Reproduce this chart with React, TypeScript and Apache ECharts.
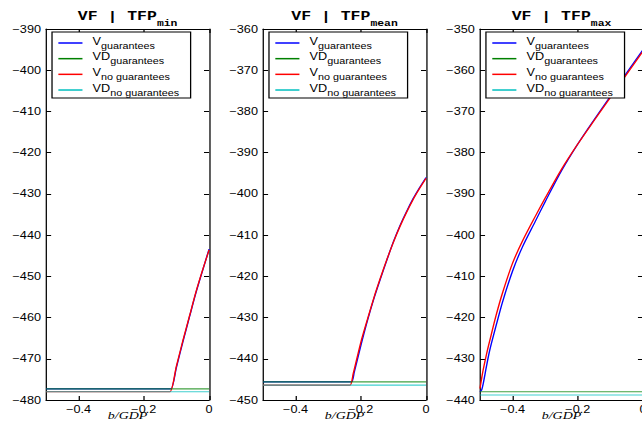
import React, { useEffect, useRef } from 'react';
import * as echarts from 'echarts';

// horizontal stretch of the original figure (text is wider than tall)
const S = 642 / 506;
const NW = 512;

const seriesNames = ['V_guarantees', 'VD_guarantees', 'V_no guarantees', 'VD_no guarantees'];
const legendLabels: Record<string, string> = {
  'V_guarantees': '{m|V}{s|guarantees}',
  'VD_guarantees': '{m|VD}{s|guarantees}',
  'V_no guarantees': '{m|V}{s|no guarantees}',
  'VD_no guarantees': '{m|VD}{s|no guarantees}',
};
const panelSubs = ['min', 'mean', 'max'];
const yMins = [-480, -450, -440];
const yMaxs = [-390, -360, -350];
const xTicks = [-0.4, -0.2, 0];

// Panel 1: TFP min
const p1VgB = [-0.5, -0.127, -0.117, -0.1, -0.08, -0.06, -0.04, -0.02, 0];
const p1VgV = [-477.3, -477.3, -477.3, -472.0, -465.8, -459.8, -453.9, -448.6, -443.4];
const p1VngB = [-0.5, -0.13, -0.12, -0.1, -0.08, -0.06, -0.04, -0.02, 0];
const p1VngV = [-478.0, -478.0, -478.0, -471.7, -465.5, -459.6, -453.7, -448.5, -443.6];
const p1VDgB = [-0.5, 0];
const p1VDgV = [-477.3, -477.3];
const p1VDngB = [-0.5, 0];
const p1VDngV = [-478.0, -478.0];

// Panel 2: TFP mean
const p2VgB = [-0.5, -0.238, -0.228, -0.22, -0.2, -0.18, -0.16, -0.14, -0.12, -0.1, -0.08, -0.06, -0.04, -0.02, 0];
const p2VgV = [-445.6, -445.6, -445.6, -443.2, -436.8, -430.8, -425.4, -420.6, -416.0, -411.6, -407.7, -404.3, -401.2, -398.5, -396.0];
const p2VngB = [-0.5, -0.243, -0.233, -0.223, -0.2, -0.18, -0.16, -0.14, -0.12, -0.1, -0.08, -0.06, -0.04, -0.02, 0];
const p2VngV = [-446.4, -446.4, -446.4, -443.5, -436.0, -430.5, -425.2, -420.4, -415.9, -411.7, -407.9, -404.5, -401.4, -398.7, -396.2];
const p2VDgB = [-0.5, 0];
const p2VDgV = [-445.6, -445.6];
const p2VDngB = [-0.5, 0];
const p2VDngV = [-446.4, -446.4];

// Panel 3: TFP max
const p3VgB = [-0.5, -0.495, -0.49, -0.48, -0.47, -0.45, -0.43, -0.4, -0.37, -0.33, -0.3, -0.25, -0.2, -0.15, -0.1, -0.05, 0];
const p3VgV = [-438.0, -437.6, -436.0, -431.8, -427.9, -421.8, -416.0, -408.7, -402.9, -396.6, -391.9, -384.4, -377.9, -372.0, -366.3, -360.6, -355.0];
const p3VngB = [-0.5, -0.495, -0.49, -0.48, -0.47, -0.45, -0.43, -0.4, -0.37, -0.33, -0.3, -0.25, -0.2, -0.15, -0.1, -0.05, 0];
const p3VngV = [-437.2, -434.8, -432.6, -428.9, -425.6, -419.3, -413.8, -406.8, -401.5, -395.4, -391.0, -384.0, -377.9, -372.2, -366.6, -361.0, -355.4];
const p3VDgB = [-0.5, 0];
const p3VDgV = [-438.0, -438.0];
const p3VDngB = [-0.5, 0];
const p3VDngV = [-438.8, -438.8];

const panels = [
  { vg: [p1VgB, p1VgV], vdg: [p1VDgB, p1VDgV], vng: [p1VngB, p1VngV], vdng: [p1VDngB, p1VDngV] },
  { vg: [p2VgB, p2VgV], vdg: [p2VDgB, p2VDgV], vng: [p2VngB, p2VngV], vdng: [p2VDngB, p2VDngV] },
  { vg: [p3VgB, p3VgV], vdg: [p3VDgB, p3VDgV], vng: [p3VngB, p3VngV], vdng: [p3VDngB, p3VDngV] },
];

const colors: Record<string, string> = {
  'V_guarantees': '#0000ff',
  'VD_guarantees': '#008000',
  'V_no guarantees': '#ff0000',
  'VD_no guarantees': '#00bfbf',
};

const GL = 36.3;
const GSTEP = 171;
const GW = 128.5;
const GTOP = 29;
const GH = 371;

const zip = (b: number[], v: number[]) => b.map((x, i) => [x, v[i]]);
const fmt = (v: number) => (v === 0 ? '0' : String(v).replace('-', '\u2212'));

export default function App() {
  const ref = useRef<HTMLDivElement>(null);
  useEffect(() => {
    if (!ref.current) return;
    const chart = echarts.init(ref.current, null, { renderer: 'svg' });
    const axisLine = { show: true, onZero: false, lineStyle: { color: '#000', width: 1 } };
    const tickStyle = { color: '#000', width: 1 };
    const labelFont = { fontFamily: 'Liberation Sans', fontSize: 10, color: '#000' };

    const grids: any[] = [];
    const xAxes: any[] = [];
    const yAxes: any[] = [];
    const series: any[] = [];
    const titles: any[] = [];
    const legends: any[] = [];

    panels.forEach((pd, p) => {
      const left = GL + GSTEP * p;
      grids.push({ left, top: GTOP, width: GW, height: GH, containLabel: false, outerBoundsMode: 'none' });
      xAxes.push({
        type: 'value', gridIndex: p, position: 'bottom', min: -0.5, max: 0,
        axisLine, splitLine: { show: false },
        axisTick: { show: true, inside: true, length: 4, customValues: xTicks, lineStyle: tickStyle },
        axisLabel: { show: true, customValues: xTicks, formatter: fmt, margin: 4, ...labelFont },
        name: 'b/GDP', nameLocation: 'middle', nameGap: 9.5, nameMoveOverlap: false,
        nameTextStyle: { fontFamily: 'Liberation Serif', fontStyle: 'italic', fontSize: 11, color: '#000' },
      });
      xAxes.push({
        type: 'value', gridIndex: p, position: 'top', min: -0.5, max: 0,
        axisLine, splitLine: { show: false },
        axisTick: { show: true, inside: true, length: 4, customValues: xTicks, lineStyle: tickStyle },
        axisLabel: { show: false },
      });
      yAxes.push({
        type: 'value', gridIndex: p, position: 'left', min: yMins[p], max: yMaxs[p], interval: 10,
        axisLine, splitLine: { show: false },
        axisTick: { show: true, inside: true, length: 4, lineStyle: tickStyle },
        axisLabel: { show: true, formatter: fmt, margin: 4, ...labelFont },
      });
      yAxes.push({
        type: 'value', gridIndex: p, position: 'right', min: yMins[p], max: yMaxs[p], interval: 10,
        axisLine, splitLine: { show: false },
        axisTick: { show: true, inside: true, length: 4, lineStyle: tickStyle },
        axisLabel: { show: false },
      });
      const order: [string, number[][], boolean][] = [
        ['V_guarantees', pd.vg, false],
        ['V_no guarantees', pd.vng, false],
        ['VD_guarantees', pd.vdg, true],
        ['VD_no guarantees', pd.vdng, true],
      ];
      order.forEach(([name, [b, v], isVD]) => {
        series.push({
          type: 'line', name, xAxisIndex: 2 * p, yAxisIndex: 2 * p,
          data: zip(b, v), symbol: 'none', showSymbol: false,
          smooth: isVD ? false : 0.3,
          lineStyle: { color: colors[name], width: 1.1, opacity: isVD ? 0.75 : 1 },
          itemStyle: { color: colors[name] },
          emphasis: { disabled: true },
        });
      });
      titles.push({
        text: `{a|VF | TFP}{b|${panelSubs[p]}}`,
        left: left + GW / 2, top: 8.5, textAlign: 'center', padding: 0,
        textStyle: {
          rich: {
            a: { fontFamily: 'Liberation Mono', fontWeight: 'bold', fontSize: 13, color: '#000', lineHeight: 16, verticalAlign: 'middle' },
            b: { fontFamily: 'Liberation Mono', fontWeight: 'bold', fontSize: 9, color: '#000', lineHeight: 16, verticalAlign: 'middle', padding: [14, 0, 0, 0] },
          },
        },
      });
      legends.push({
        data: seriesNames, left: left + 4.7, top: 32, orient: 'vertical',
        itemWidth: 19, itemHeight: 1.5, itemGap: 1.67, icon: 'rect',
        padding: [4, 9, 1, 5], backgroundColor: '#fff', borderColor: '#000', borderWidth: 1, borderRadius: 0,
        itemStyle: { borderWidth: 0 }, selectedMode: false,
        formatter: (n: string) => legendLabels[n],
        textStyle: {
          color: '#000',
          rich: {
            m: { fontFamily: 'Liberation Sans', fontSize: 10, color: '#000', lineHeight: 14, verticalAlign: 'middle', padding: [0, 0, 4, 3] },
            s: { fontFamily: 'Liberation Sans', fontSize: 8.5, color: '#000', lineHeight: 14, verticalAlign: 'middle', padding: [5, 0, 0, 0] },
          },
        },
      });
    });

    chart.setOption({
      animation: false,
      backgroundColor: '#fff',
      title: titles,
      legend: legends,
      grid: grids,
      xAxis: xAxes,
      yAxis: yAxes,
      series,
    });
    return () => chart.dispose();
  }, []);
  return (
    <div style={{ position: 'fixed', left: 0, top: 0, width: 642, height: 423, overflow: 'hidden', background: '#fff' }}>
      <div ref={ref} style={{ width: NW, height: 423, transform: `scaleX(${S})`, transformOrigin: '0 0' }} />
    </div>
  );
}
